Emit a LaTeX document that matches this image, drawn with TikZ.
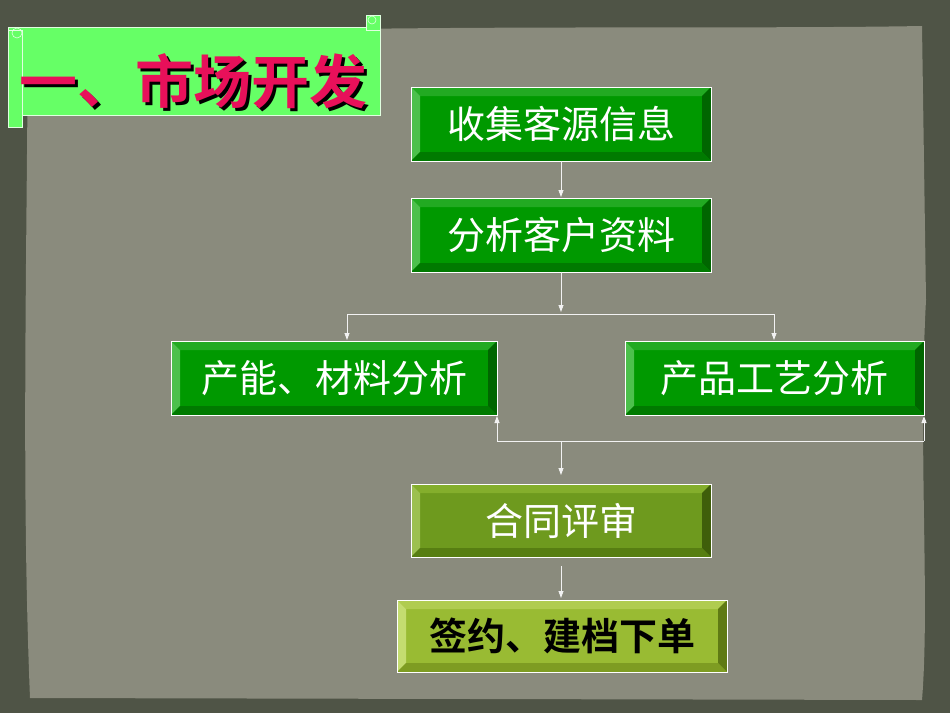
\documentclass[tikz,border=0pt]{standalone}
\usepackage{fontspec}
\newfontfamily\cjk{Noto Sans CJK SC}
\newfontfamily\cjkb{Noto Sans CJK SC Bold}
\usetikzlibrary{calc,arrows.meta}
\definecolor{bgout}{HTML}{4F5446}
\definecolor{paper}{HTML}{8A8B7D}
\definecolor{gface}{HTML}{009900}
\definecolor{glight}{HTML}{4CC04C}
\definecolor{gtop}{HTML}{22AA22}
\definecolor{gdark}{HTML}{006600}
\definecolor{gbot}{HTML}{007A00}
\definecolor{oface}{HTML}{6E9A1E}
\definecolor{olight}{HTML}{9CC050}
\definecolor{otop}{HTML}{84AE2C}
\definecolor{odark}{HTML}{3F5E0A}
\definecolor{obot}{HTML}{577E12}
\definecolor{yface}{HTML}{99BB33}
\definecolor{ylight}{HTML}{C4DC70}
\definecolor{ytop}{HTML}{B0CC50}
\definecolor{ydark}{HTML}{5F7A14}
\definecolor{ybot}{HTML}{7E9C22}
\definecolor{tgreen}{HTML}{66FF66}
\definecolor{tred}{HTML}{E8105A}
\newcommand\bevelbox[8]{% name, x1,y1,x2,y2, prefix, text, textstyle
  \fill[#6face] (#2,#3) rectangle (#4,#5);
  \fill[#6top] (#2,#3) -- (#4,#3) -- ($(#4,#3)+(-9,9)$) -- ($(#2,#3)+(9,9)$) -- cycle;
  \fill[#6light] (#2,#3) -- ($(#2,#3)+(9,9)$) -- ($(#2,#5)+(9,-9)$) -- (#2,#5) -- cycle;
  \fill[#6dark] (#4,#3) -- ($(#4,#3)+(-9,9)$) -- ($(#4,#5)+(-9,-9)$) -- (#4,#5) -- cycle;
  \fill[#6bot] (#2,#5) -- ($(#2,#5)+(9,-9)$) -- ($(#4,#5)+(-9,-9)$) -- (#4,#5) -- cycle;
  \draw[white,line width=0.8] (#2,#3) rectangle (#4,#5);
  \node[#8] (#1) at ($(#2,#3)!0.5!(#4,#5)$) {#7};
}
\begin{document}
\begin{tikzpicture}[x=1pt,y=-1pt,
  boxtxt/.style={font=\cjk\fontsize{38}{38}\selectfont,text=white,inner sep=0},
  boxtxtb/.style={font=\cjkb\fontsize{38}{38}\selectfont,text=black,inner sep=0},
  conn/.style={white!90!gray,line width=0.8,-{Triangle[width=5,length=7]}}]
\useasboundingbox (0,0) rectangle (950,713);
\fill[bgout] (0,0) rectangle (950,713);
\fill[paper] (28,40) .. controls (300,22) and (700,30) .. (922,26) -- (926,300) .. controls (918,450) and (930,600) .. (922,700) -- (30,698) .. controls (22,500) and (26,300) .. (28,40) -- cycle;
% title banner
\fill[tgreen,draw=white!80!tgreen,line width=0.6] (8,27) rectangle (380,115);
\fill[tgreen,draw=white!80!tgreen,line width=0.6] (8,30) rectangle (22,127);
\draw[white!80!tgreen,line width=0.6] (17,33) circle (5);
\fill[tgreen,draw=white!80!tgreen,line width=0.6] (366,15) rectangle (380,30);
\draw[white!80!tgreen,line width=0.6] (372,20) circle (4);
\node[font=\cjkb\fontsize{58}{58}\selectfont,text=black] (shadow) at (196,84) {一、市场开发};
\node[font=\cjkb\fontsize{58}{58}\selectfont,text=tred] (title) at (193,81) {一、市场开发};
\bevelbox{b1}{411}{87}{711}{161}{g}{收集客源信息}{boxtxt}
\bevelbox{b2}{411}{198}{711}{272}{g}{分析客户资料}{boxtxt}
\bevelbox{b3}{171}{341}{497}{415}{g}{产能、材料分析}{boxtxt}
\bevelbox{b4}{625}{341}{924}{415}{g}{产品工艺分析}{boxtxt}
\bevelbox{b5}{411}{484}{711}{557}{o}{合同评审}{boxtxt}
\bevelbox{b6}{397}{600}{727}{672}{y}{签约、建档下单}{boxtxtb}
\draw[conn] (561,161) -- (561,197);
\draw[conn] (561,272) -- (561,312);
\draw[white!90!gray,line width=0.8] (347,314) -- (774,314);
\draw[conn] (347,314) -- (347,340);
\draw[conn] (774,314) -- (774,340);
\draw[conn] (561,441) -- (561,475);
\draw[white!90!gray,line width=0.8] (497,441) -- (924,441);
\draw[conn] (497,441) -- (497,416);
\draw[conn] (924,441) -- (924,416);
\draw[conn] (561,566) -- (561,598);
\end{tikzpicture}
\end{document}
